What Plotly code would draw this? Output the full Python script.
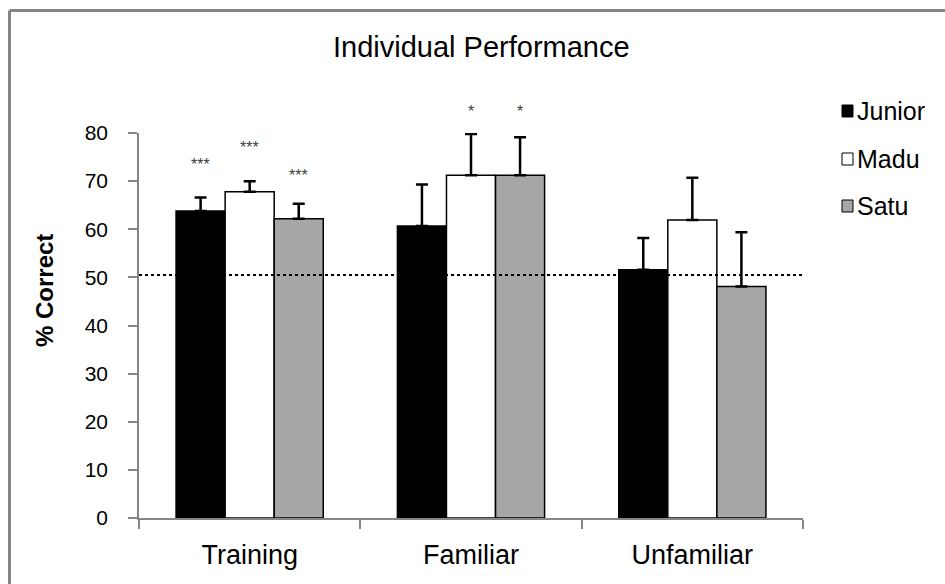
import plotly.graph_objects as go

# Conditions on the x axis
categories = ["Training", "Familiar", "Unfamiliar"]

# Mean percent correct per subject
junior = [63.8, 60.7, 51.6]
madu = [67.8, 71.2, 61.9]
satu = [62.2, 71.2, 48.1]

# Upper error (SEM) per subject
junior_err = [2.8, 8.6, 6.6]
madu_err = [2.2, 8.6, 8.8]
satu_err = [3.1, 7.9, 11.3]

# Significance marks above the bars: (category index, subject index, label, height)
sig_marks = [
    (0, 0, "***", 73.4),
    (0, 1, "***", 76.9),
    (0, 2, "***", 71.1),
    (1, 1, "*", 84.5),
    (1, 2, "*", 84.5),
]

chance_level = 50.5
legend_names = ["Junior", "Madu", "Satu"]
y_range = [0, 80]

W, H = 945, 584
ML, MR, MT, MB = 139, 142, 133, 66
PW, PH = W - ML - MR, H - MT - MB

colors = ["#000000", "#ffffff", "#a6a6a6"]
series = [junior, madu, satu]
errors = [junior_err, madu_err, satu_err]

fig = go.Figure()
for name, vals, errs, col in zip(legend_names, series, errors, colors):
    fig.add_trace(go.Bar(
        name=name,
        x=categories,
        y=vals,
        marker=dict(color=col, line=dict(color="#000000", width=1.5)),
        error_y=dict(type="data", array=errs, symmetric=False,
                     arrayminus=[0] * len(errs), color="#000000",
                     thickness=2.5, width=6),
        showlegend=False,
        cliponaxis=False,
    ))

# x offsets of the three bars within a category group
bargap = 0.335
bw = (1 - bargap) / 3
offsets = [-bw, 0, bw]

annotations = []
for ci, si, label, yv in sig_marks:
    annotations.append(dict(
        x=ci + offsets[si], y=(yv - y_range[0]) / (y_range[1] - y_range[0]),
        xref="x", yref="paper", text=label,
        showarrow=False, font=dict(family="Liberation Sans, Arial", size=16, color="#404040"),
        yanchor="middle", xanchor="center",
    ))

# Title
annotations.append(dict(
    x=(481 - ML) / PW, y=1 + (MT - 47) / PH, xref="paper", yref="paper",
    text="Individual Performance", showarrow=False,
    font=dict(family="Liberation Sans, Arial", size=29, color="#000000"),
    xanchor="center", yanchor="middle",
))

# Y axis title
annotations.append(dict(
    x=(44 - ML) / PW, y=1 - (291 - MT) / PH, xref="paper", yref="paper",
    text="<b>% Correct</b>", showarrow=False, textangle=-90,
    font=dict(family="Liberation Sans, Arial", size=24, color="#000000"),
    xanchor="center", yanchor="middle",
))

shapes = []
# Chance level line
shapes.append(dict(type="line", xref="paper", yref="y", x0=0, x1=1,
                   y0=chance_level, y1=chance_level,
                   line=dict(color="#000000", width=2, dash="dot")))

# Legend drawn as squares with labels
legend_y = [111, 159, 206]
for name, col, py in zip(legend_names, colors, legend_y):
    x0 = (842 - ML) / PW
    x1 = (853 - ML) / PW
    y0 = 1 - (py - 6 - MT) / PH
    y1 = 1 - (py + 6 - MT) / PH
    shapes.append(dict(type="rect", xref="paper", yref="paper",
                       x0=x0, x1=x1, y0=y0, y1=y1,
                       fillcolor=col, line=dict(color="#000000", width=1)))
    annotations.append(dict(
        x=(855 - ML) / PW, y=1 - (py - MT) / PH, xref="paper", yref="paper",
        text=name, showarrow=False, xanchor="left", yanchor="middle",
        font=dict(family="Liberation Sans, Arial", size=25, color="#000000"),
    ))

# Outer frame (top and left edges)
fx = (9.5 - ML) / PW
fy = 1 + (MT - 10.5) / PH
shapes.append(dict(type="line", xref="paper", yref="paper", x0=fx, x1=(W + 5 - ML) / PW,
                   y0=fy, y1=fy, line=dict(color="#868686", width=3)))
shapes.append(dict(type="line", xref="paper", yref="paper", x0=fx, x1=fx,
                   y0=fy, y1=-(MB + 5) / PH, line=dict(color="#868686", width=3)))

fig.update_layout(
    width=W, height=H,
    margin=dict(l=ML, r=MR, t=MT, b=MB, pad=0),
    paper_bgcolor="#ffffff", plot_bgcolor="#ffffff",
    barmode="group", bargap=bargap, bargroupgap=0,
    annotations=annotations, shapes=shapes,
    font=dict(family="Liberation Sans, Arial", color="#000000"),
)
fig.update_xaxes(
    showline=True, linecolor="#868686", linewidth=1.5,
    ticks="outside", tickson="boundaries", ticklen=9, tickcolor="#868686", tickwidth=1.5,
    tickfont=dict(size=27, color="#000000"), showgrid=False, zeroline=False,
    ticklabelstandoff=12,
)
fig.update_yaxes(
    range=y_range, dtick=10, showline=True, linecolor="#868686", linewidth=1.5,
    ticks="outside", ticklen=9, tickcolor="#868686", tickwidth=1.5,
    tickfont=dict(size=21, color="#000000"), showgrid=False, zeroline=False,
    ticklabelstandoff=16,
)

fig.write_html("out.html")
